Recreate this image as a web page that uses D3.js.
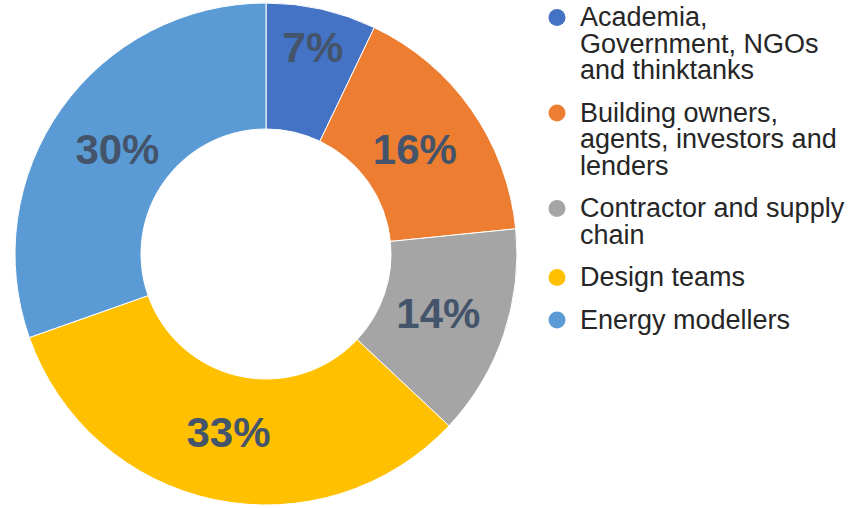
<!DOCTYPE html>
<html>
<head>
<meta charset="utf-8">
<script src="https://cdn.jsdelivr.net/npm/d3@7"></script>
<style>
  body { margin: 0; background: #fff; }
  svg text { font-family: "Liberation Sans", Arial, sans-serif; }
</style>
</head>
<body>
<div id="chart"></div>
<script>
//Chart data.
var categories = ["Academia, Government, NGOs and thinktanks",
  "Building owners, agents, investors and lenders",
  "Contractor and supply chain",
  "Design teams",
  "Energy modellers"];
var shares = [7.1, 16.3, 13.6, 32.6, 30.4];
var legendLines = [
  ["Academia,", "Government, NGOs", "and thinktanks"],
  ["Building owners,", "agents, investors and", "lenders"],
  ["Contractor and supply", "chain"],
  ["Design teams"],
  ["Energy modellers"]
];
var colors = ["#4472C4", "#ED7D31", "#A5A5A5", "#FFC000", "#5B9BD5"];

//SVG dimensions.
var svgWidth = 851;
var svgHeight = 508;

var cx = 266, cy = 254;
var outerR = 251, innerR = 125;

var svg = d3.select("#chart")
  .append("svg")
  .attr("width", svgWidth)
  .attr("height", svgHeight);

var data = categories.map(function(c, i) {
  return { name: c, value: shares[i], color: colors[i] };
});

var pie = d3.pie()
  .sort(null)
  .value(function(d) { return d.value; });

var arc = d3.arc()
  .innerRadius(innerR)
  .outerRadius(outerR);

var chart = svg.append("g")
  .attr("transform", "translate(" + cx + "," + cy + ")");

var arcs = pie(data);

chart.selectAll("path")
  .data(arcs)
  .enter().append("path")
    .attr("d", arc)
    .attr("fill", function(d) { return d.data.color; })
    .attr("stroke", "#fff")
    .attr("stroke-width", 1);

//Labels sit near mid ring; narrow slices push them outward so they fit.
var total = d3.sum(shares);
chart.selectAll("text.pct")
  .data(arcs)
  .enter().append("text")
    .attr("class", "pct")
    .attr("transform", function(d) {
      var r = (d.endAngle - d.startAngle) < 0.5 ? 212 : 182;
      var a = (d.startAngle + d.endAngle) / 2;
      return "translate(" + (r * Math.sin(a)) + "," + (-r * Math.cos(a)) + ")";
    })
    .attr("text-anchor", "middle")
    .attr("dy", "0.36em")
    .attr("font-size", 42)
    .attr("font-weight", "bold")
    .attr("fill", "#44546A")
    .text(function(d) { return Math.round(d.data.value / total * 100) + "%"; });

//Legend.
var lineH = 26.5, entryGap = 16;
var legend = svg.append("g");
var y = 26;
legendLines.forEach(function(lines, i) {
  legend.append("circle")
    .attr("cx", 557)
    .attr("cy", y - 8.5)
    .attr("r", 8.5)
    .attr("fill", colors[i]);
  var t = legend.append("text")
    .attr("x", 580)
    .attr("y", y)
    .attr("font-size", 27)
    .attr("fill", "#262626");
  lines.forEach(function(l, j) {
    t.append("tspan")
      .attr("x", 580)
      .attr("y", y + j * lineH)
      .text(l);
  });
  y += lines.length * lineH + entryGap;
});
</script>
</body>
</html>
